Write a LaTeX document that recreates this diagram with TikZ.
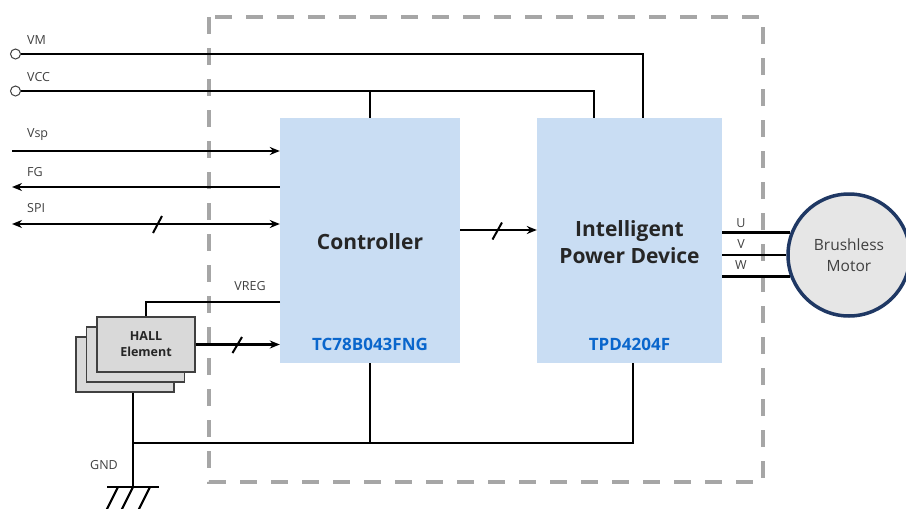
\documentclass[tikz,border=0pt]{standalone}
\usepackage{fontspec}
\setmainfont{Open Sans}
\usetikzlibrary{arrows.meta}

\definecolor{chipblue}{RGB}{201,221,243}
\definecolor{partblue}{RGB}{10,102,204}
\definecolor{lblgray}{RGB}{64,64,64}
\definecolor{boxgray}{RGB}{166,166,166}
\definecolor{hallfill}{RGB}{217,217,217}
\definecolor{motorfill}{RGB}{230,230,230}
\definecolor{motornavy}{RGB}{31,56,100}

\tikzstyle{chip} = [rectangle, fill=chipblue, inner sep=0pt]
\tikzstyle{title} = [text=black!85, font=\fontsize{21}{27}\selectfont\bfseries, align=center]
\tikzstyle{part} = [text=partblue, font=\fontsize{17}{20}\selectfont\bfseries]
\tikzstyle{wire} = [line width=2.2pt, black]
\tikzstyle{arrow} = [wire, ->, >={Stealth[length=10pt,width=8pt]}]
\tikzstyle{darrow} = [wire, <->, >={Stealth[length=10pt,width=8pt]}]
\tikzstyle{slash} = [line width=2pt, black]
\tikzstyle{term} = [circle, draw=lblgray, fill=white, line width=1pt, minimum size=10pt, inner sep=0pt]
\tikzstyle{lbl} = [text=lblgray, font=\fontsize{12.5}{15}\selectfont, inner sep=0pt]
\tikzstyle{hall} = [rectangle, draw=lblgray, fill=hallfill, line width=1.2pt, minimum width=98pt, minimum height=55pt]

\begin{document}
\begin{tikzpicture}[x=1pt, y=-1pt]
\useasboundingbox (0,0) rectangle (906,509);

% module outline
\draw [boxgray, line width=4pt, dash pattern=on 17pt off 14pt] (209,17) rectangle (763,482);

\node (ctrl) [chip, minimum width=180pt, minimum height=245pt] at (370,240.5) {};
\node (ipd) [chip, minimum width=185pt, minimum height=245pt] at (629.5,240.5) {};
\node (ctrltxt) [title] at (370,242) {Controller};
\node (ctrlpart) [part] at (370,344) {TC78B043FNG};
\node (ipdtxt) [title] at (629.5,242) {Intelligent\\Power Device};
\node (ipdpart) [part] at (629.5,344) {TPD4204F};

\node (hall3) [hall] at (125,364.5) {};
\node (hall2) [hall] at (135.5,354.5) {};
\node (hall1) [hall, align=center, text=black!85, font=\fontsize{12.5}{16}\selectfont\bfseries] at (146,344.5) {HALL\\Element};

\node (motor) [circle, draw=motornavy, fill=motorfill, line width=3.5pt, minimum size=122pt, align=center,
  text=lblgray, font=\fontsize{15.5}{21}\selectfont] at (849,255) {Brushless\\Motor};

\node (vmin) [term] at (15.5,54) {};
\node (vccin) [term] at (15.5,91) {};
\coordinate (vsp) at (12,151);
\coordinate (fg) at (12,187);
\coordinate (spi) at (12,224);
\coordinate (vmdrop) at (643,118);
\coordinate (vccdrop) at (594,118);
\coordinate (vreg) at (280,302);
\coordinate (gndbus) at (133,443);
\coordinate (ipdg) at (633,363);
\coordinate (gnd) at (133,487);

\node (vmlbl) [lbl, anchor=west] at (27,40) {VM};
\node (vcclbl) [lbl, anchor=west] at (27,77) {VCC};
\node (vsplbl) [lbl, anchor=west] at (27,135) {Vsp};
\node (fglbl) [lbl, anchor=west] at (27,172) {FG};
\node (spilbl) [lbl, anchor=west] at (27,208) {SPI};
\node (vreglbl) [lbl] at (250,286) {VREG};
\node (gndlbl) [lbl] at (104,465) {GND};
\node (ulbl) [lbl] at (741,223) {U};
\node (vlbl) [lbl] at (741,244) {V};
\node (wlbl) [lbl] at (741,265) {W};

\draw [wire] (vmin) -- (vmin -| vmdrop) -- (vmdrop);
\draw [wire] (vccin) -- (vccin -| vccdrop) -- (vccdrop);
\draw [wire] (ctrl.north |- vccin) -- (ctrl.north);

\draw [arrow] (vsp) -- (vsp -| ctrl.west);
\draw [arrow] (fg -| ctrl.west) -- (fg);
\draw [darrow] (spi) -- (spi -| ctrl.west);
\draw [slash] (153,233) -- (162,216);

\draw [arrow] ([yshift=10.5pt]ctrl.east) -- ([yshift=10.5pt]ipd.west);
\draw [slash] (492.5,239.5) -- (502,222.5);

\draw [wire] (vreg) -- (vreg -| hall1.north) -- (hall1.north);
\draw [arrow] (hall1.east) -- (hall1.east -| ctrl.west);
\draw [slash] (232.5,353) -- (242,337);

\draw [wire] (ipd.east |- motor.159) -- (motor.159);
\draw [wire] (ipd.east |- motor.180) -- (motor.180);
\draw [wire] (ipd.east |- motor.200) -- (motor.200);

\draw [wire] (hall3.south -| gnd) -- (gnd);
\draw [wire] (gndbus) -- (gndbus -| ipdg) -- (ipdg);
\draw [wire] (ctrl.south) -- (ctrl.south |- gndbus);
\draw [wire] (107,487) -- (159,487);
\foreach \x in {118,133,150}
  \draw [wire] (\x,487) -- (\x-12.5,512);
\end{tikzpicture}
\end{document}
